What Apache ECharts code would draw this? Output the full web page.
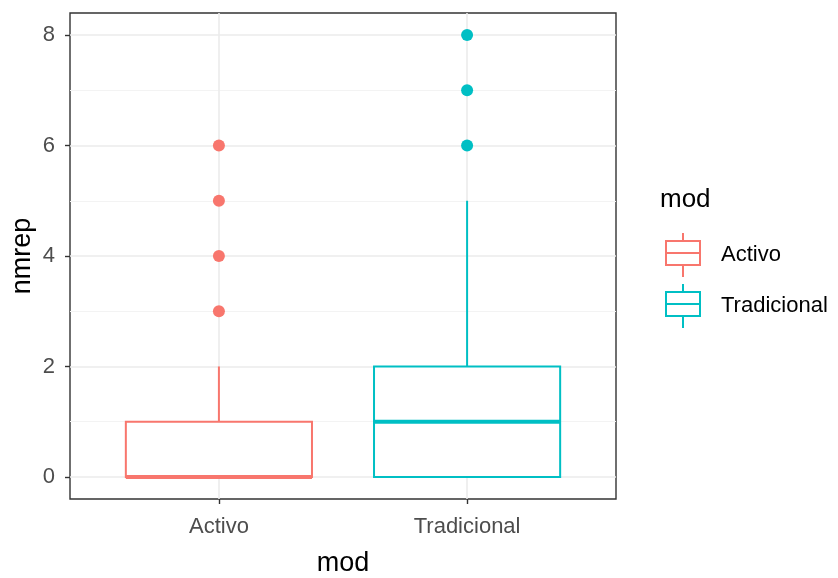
<!DOCTYPE html>
<html><head><meta charset="utf-8">
<script src="https://cdn.jsdelivr.net/npm/echarts@6/dist/echarts.min.js"></script>
<style>html,body{margin:0;padding:0;background:#fff}#c{width:838px;height:578px}</style>
</head><body><div id="c"></div>
<script>
const categories = ['Activo', 'Tradicional'];
const colors = ['#F8766D', '#00BFC4'];
const whiskerLow = [0, 0];
const q1 = [0, 0];
const median = [0, 1];
const q3 = [1, 2];
const whiskerHigh = [2, 5];
const outliersActivo = [3, 4, 5, 6];
const outliersTradicional = [6, 7, 8];
const yTicks = [0, 2, 4, 6, 8];
const yMinor = [1, 3, 5, 7];

const FONT = '"Liberation Sans", Arial, sans-serif';
const boxData = categories.map((c, i) => [i + 1, whiskerLow[i], q1[i], median[i], q3[i], whiskerHigh[i], i]);
const outlierSets = [outliersActivo, outliersTradicional];

function legendKey(top, col) {
  return {type: 'group', x: 666, y: top, children: [
    {type: 'line', shape: {x1: 17, y1: 0, x2: 17, y2: 44}, style: {stroke: col, lineWidth: 2}},
    {type: 'rect', shape: {x: 0, y: 8, width: 34, height: 24}, style: {fill: '#fff', stroke: col, lineWidth: 2}},
    {type: 'line', shape: {x1: 0, y1: 20, x2: 34, y2: 20}, style: {stroke: col, lineWidth: 2}}
  ]};
}

const chart = echarts.init(document.getElementById('c'), null, {renderer: 'canvas'});
const option = {
  animation: false,
  backgroundColor: '#fff',
  grid: {left: 70, top: 13, right: 222, bottom: 79, containLabel: false, outerBoundsMode: 'none', show: true, borderColor: '#333333', borderWidth: 1.4, backgroundColor: 'transparent'},
  xAxis: [{
    type: 'value', min: 0.4, max: 2.6,
    name: 'mod', nameLocation: 'middle', nameGap: 51, nameMoveOverlap: false,
    nameTextStyle: {fontFamily: FONT, fontSize: 27, color: '#000'},
    axisLine: {show: false, onZero: false},
    axisTick: {show: true, inside: false, length: 5, lineStyle: {color: '#333', width: 1.4}, customValues: [1, 2]},
    axisLabel: {customValues: [1, 2], formatter: v => categories[Math.round(v) - 1] || '', fontFamily: FONT, fontSize: 22, color: '#4D4D4D', margin: 17},
    splitLine: {show: true, lineStyle: {color: '#EBEBEB', width: 1.6}}
  }],
  yAxis: [{
    type: 'value', min: -0.4, max: 8.4,
    name: 'nmrep', nameLocation: 'middle', nameGap: 34, nameMoveOverlap: false,
    nameTextStyle: {fontFamily: FONT, fontSize: 27, color: '#000'},
    axisLine: {show: false, onZero: false},
    axisTick: {show: true, inside: false, length: 5, lineStyle: {color: '#333', width: 1.4}, customValues: yTicks},
    axisLabel: {customValues: yTicks, fontFamily: FONT, fontSize: 22, color: '#4D4D4D', margin: 15},
    splitLine: {show: true, lineStyle: {color: '#EBEBEB', width: 1.6}}
  }, {
    type: 'value', min: -0.4, max: 8.4, position: 'left',
    axisLine: {show: false, onZero: false}, axisLabel: {show: false},
    axisTick: {show: false, customValues: yMinor},
    splitLine: {show: true, lineStyle: {color: '#F3F3F3', width: 1}}
  }],
  series: [{
    type: 'custom',
    data: boxData,
    z: 3,
    renderItem: function (params, api) {
      const x = api.value(0), lo = api.value(1), a = api.value(2), m = api.value(3), b = api.value(4), hi = api.value(5);
      const col = colors[api.value(6)];
      const half = api.size([0.75, 0])[0] / 2;
      const pLo = api.coord([x, lo]), pA = api.coord([x, a]), pM = api.coord([x, m]), pB = api.coord([x, b]), pHi = api.coord([x, hi]);
      const cx = pA[0];
      return {
        type: 'group',
        children: [
          {type: 'line', shape: {x1: cx, y1: pB[1], x2: cx, y2: pHi[1]}, style: {stroke: col, lineWidth: 2}},
          {type: 'line', shape: {x1: cx, y1: pA[1], x2: cx, y2: pLo[1]}, style: {stroke: col, lineWidth: 2}},
          {type: 'rect', shape: {x: cx - half, y: pB[1], width: 2 * half, height: pA[1] - pB[1]}, style: {fill: '#fff', stroke: col, lineWidth: 2}},
          {type: 'line', shape: {x1: cx - half, y1: pM[1], x2: cx + half, y2: pM[1]}, style: {stroke: col, lineWidth: 4}}
        ]
      };
    }
  }].concat(outlierSets.map((arr, i) => ({
    type: 'scatter',
    z: 4,
    symbol: 'circle',
    symbolSize: 12,
    itemStyle: {color: colors[i], opacity: 1},
    data: arr.map(v => [i + 1, v])
  }))),
  graphic: [
    {type: 'text', x: 660, y: 200, style: {text: 'mod', font: '26px ' + FONT, fill: '#000', verticalAlign: 'middle'}},
    legendKey(233, colors[0]),
    {type: 'text', x: 721, y: 255, style: {text: categories[0], font: '22px ' + FONT, fill: '#000', verticalAlign: 'middle'}},
    legendKey(284, colors[1]),
    {type: 'text', x: 721, y: 306, style: {text: categories[1], font: '22px ' + FONT, fill: '#000', verticalAlign: 'middle'}}
  ]
};
chart.setOption(option);
</script></body></html>
